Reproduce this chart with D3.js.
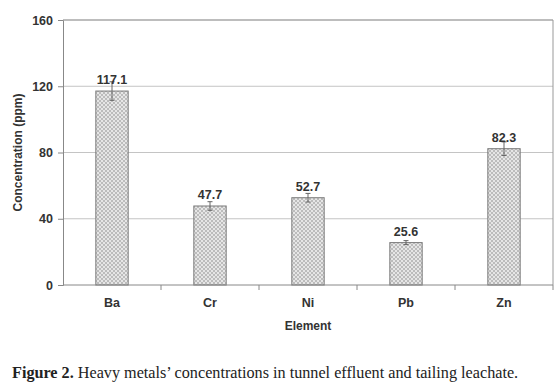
<!DOCTYPE html>
<html>
<head>
<meta charset="utf-8">
<script src="https://cdn.jsdelivr.net/npm/d3@7"></script>
<style>
  body { margin: 0; background: #fff; }
  text { font-family: "Liberation Sans", Arial, sans-serif; }
</style>
</head>
<body>
<script>
// data
var elements = ["Ba", "Cr", "Ni", "Pb", "Zn"];
var concentrations = [117.1, 47.7, 52.7, 25.6, 82.3];
var errors = [5.6, 2.6, 2.6, 1.2, 4.1];
var yTicks = [0, 40, 80, 120, 160];

var margin = {top: 20, right: 4, bottom: 102, left: 63};
var width = 557 - margin.left - margin.right;
var height = 387 - margin.top - margin.bottom;

var svg = d3.select("body")
    .append("svg")
    .attr("width", 557)
    .attr("height", 387);

// dotted fill like the original
var pat = svg.append("defs").append("pattern")
    .attr("id", "dots")
    .attr("width", 4)
    .attr("height", 4)
    .attr("patternUnits", "userSpaceOnUse");
pat.append("rect").attr("width", 4).attr("height", 4).attr("fill", "#e6e6e6");
pat.append("rect").attr("x", 0).attr("y", 0).attr("width", 2).attr("height", 2).attr("fill", "#bcbcbc");
pat.append("rect").attr("x", 2).attr("y", 2).attr("width", 2).attr("height", 2).attr("fill", "#bcbcbc");

var g = svg.append("g")
    .attr("transform", `translate(${margin.left}, ${margin.top})`);

const x = d3.scaleBand()
    .domain(elements)
    .range([0, width])
    .paddingInner(0.67)
    .paddingOuter(0.335);

const xb = d3.scaleBand()
    .domain(elements)
    .range([0, width]);

const y = d3.scaleLinear()
    .domain([0, 160])
    .range([height, 0]);

// gridlines
g.selectAll(".grid")
    .data(yTicks.slice(1))
    .enter()
    .append("line")
    .attr("x1", 0)
    .attr("x2", width)
    .attr("y1", d => y(d))
    .attr("y2", d => y(d))
    .attr("stroke", "#c4c4c4")
    .attr("stroke-width", 1);

// plot border (right)
g.append("line")
    .attr("x1", width).attr("x2", width)
    .attr("y1", 0).attr("y2", height)
    .attr("stroke", "#999");

var data = elements.map((e, i) => ({name: e, value: concentrations[i], err: errors[i]}));

g.selectAll(".bar")
    .data(data)
    .enter()
    .append("rect")
    .attr("x", d => x(d.name))
    .attr("y", d => y(d.value))
    .attr("width", x.bandwidth())
    .attr("height", d => height - y(d.value))
    .attr("fill", "url(#dots)")
    .attr("stroke", "#7a7a7a")
    .attr("stroke-width", 1);

// error bars
var eb = g.selectAll(".err")
    .data(data)
    .enter()
    .append("g")
    .attr("stroke", "#666")
    .attr("stroke-width", 1);
eb.append("line")
    .attr("x1", d => x(d.name) + x.bandwidth() / 2)
    .attr("x2", d => x(d.name) + x.bandwidth() / 2)
    .attr("y1", d => y(d.value + d.err))
    .attr("y2", d => y(d.value - d.err));
eb.append("line")
    .attr("x1", d => x(d.name) + x.bandwidth() / 2 - 2.5)
    .attr("x2", d => x(d.name) + x.bandwidth() / 2 + 2.5)
    .attr("y1", d => y(d.value + d.err))
    .attr("y2", d => y(d.value + d.err));
eb.append("line")
    .attr("x1", d => x(d.name) + x.bandwidth() / 2 - 2.5)
    .attr("x2", d => x(d.name) + x.bandwidth() / 2 + 2.5)
    .attr("y1", d => y(d.value - d.err))
    .attr("y2", d => y(d.value - d.err));

// value labels
g.selectAll(".lbl")
    .data(data)
    .enter()
    .append("text")
    .attr("x", d => x(d.name) + x.bandwidth() / 2)
    .attr("y", d => y(d.value) - 7)
    .attr("text-anchor", "middle")
    .attr("font-size", "12.5px")
    .attr("font-weight", "bold")
    .attr("fill", "#333")
    .text(d => d.value.toFixed(1));

// y axis
var yAxis = d3.axisLeft(y)
    .tickValues(yTicks)
    .tickSize(5)
    .tickPadding(5);
var ya = g.append("g").call(yAxis);
ya.select(".domain").attr("stroke", "#888");
ya.selectAll(".tick line").attr("stroke", "#888");
ya.selectAll("text")
    .attr("font-size", "12.5px")
    .attr("font-weight", "bold")
    .attr("fill", "#333")
    .style("font-family", "Liberation Sans, Arial, sans-serif");

// top line of frame
g.append("line")
    .attr("x1", 0).attr("x2", width)
    .attr("y1", 0).attr("y2", 0)
    .attr("stroke", "#999");

// x axis: ticks on category boundaries
var xa = g.append("g").attr("transform", `translate(0, ${height})`);
xa.append("line")
    .attr("x1", 0).attr("x2", width)
    .attr("stroke", "#888");
xa.selectAll(".bt")
    .data(elements)
    .enter()
    .append("line")
    .attr("x1", d => xb(d) + xb.bandwidth())
    .attr("x2", d => xb(d) + xb.bandwidth())
    .attr("y1", 0).attr("y2", 5)
    .attr("stroke", "#888");
xa.selectAll(".xl")
    .data(elements)
    .enter()
    .append("text")
    .attr("x", d => x(d) + x.bandwidth() / 2)
    .attr("y", 22)
    .attr("text-anchor", "middle")
    .attr("font-size", "12.5px")
    .attr("font-weight", "bold")
    .attr("fill", "#333")
    .text(d => d);

// axis titles
g.append("text")
    .attr("x", width / 2)
    .attr("y", height + 45)
    .attr("text-anchor", "middle")
    .attr("font-size", "12px")
    .attr("font-weight", "bold")
    .attr("fill", "#333")
    .text("Element");

g.append("text")
    .attr("transform", "rotate(-90)")
    .attr("x", -(height / 2))
    .attr("y", -41)
    .attr("text-anchor", "middle")
    .attr("font-size", "12px")
    .attr("font-weight", "bold")
    .attr("fill", "#333")
    .text("Concentration (ppm)");

// caption
var cap = svg.append("text")
    .attr("x", 12)
    .attr("y", 378)
    .attr("font-size", "16.2px")
    .attr("fill", "#222")
    .style("font-family", "Liberation Serif, 'DejaVu Serif', serif");
cap.append("tspan").attr("font-weight", "bold").text("Figure 2.");
cap.append("tspan").text(" Heavy metals’ concentrations in tunnel effluent and tailing leachate.");
</script>
</body>
</html>
